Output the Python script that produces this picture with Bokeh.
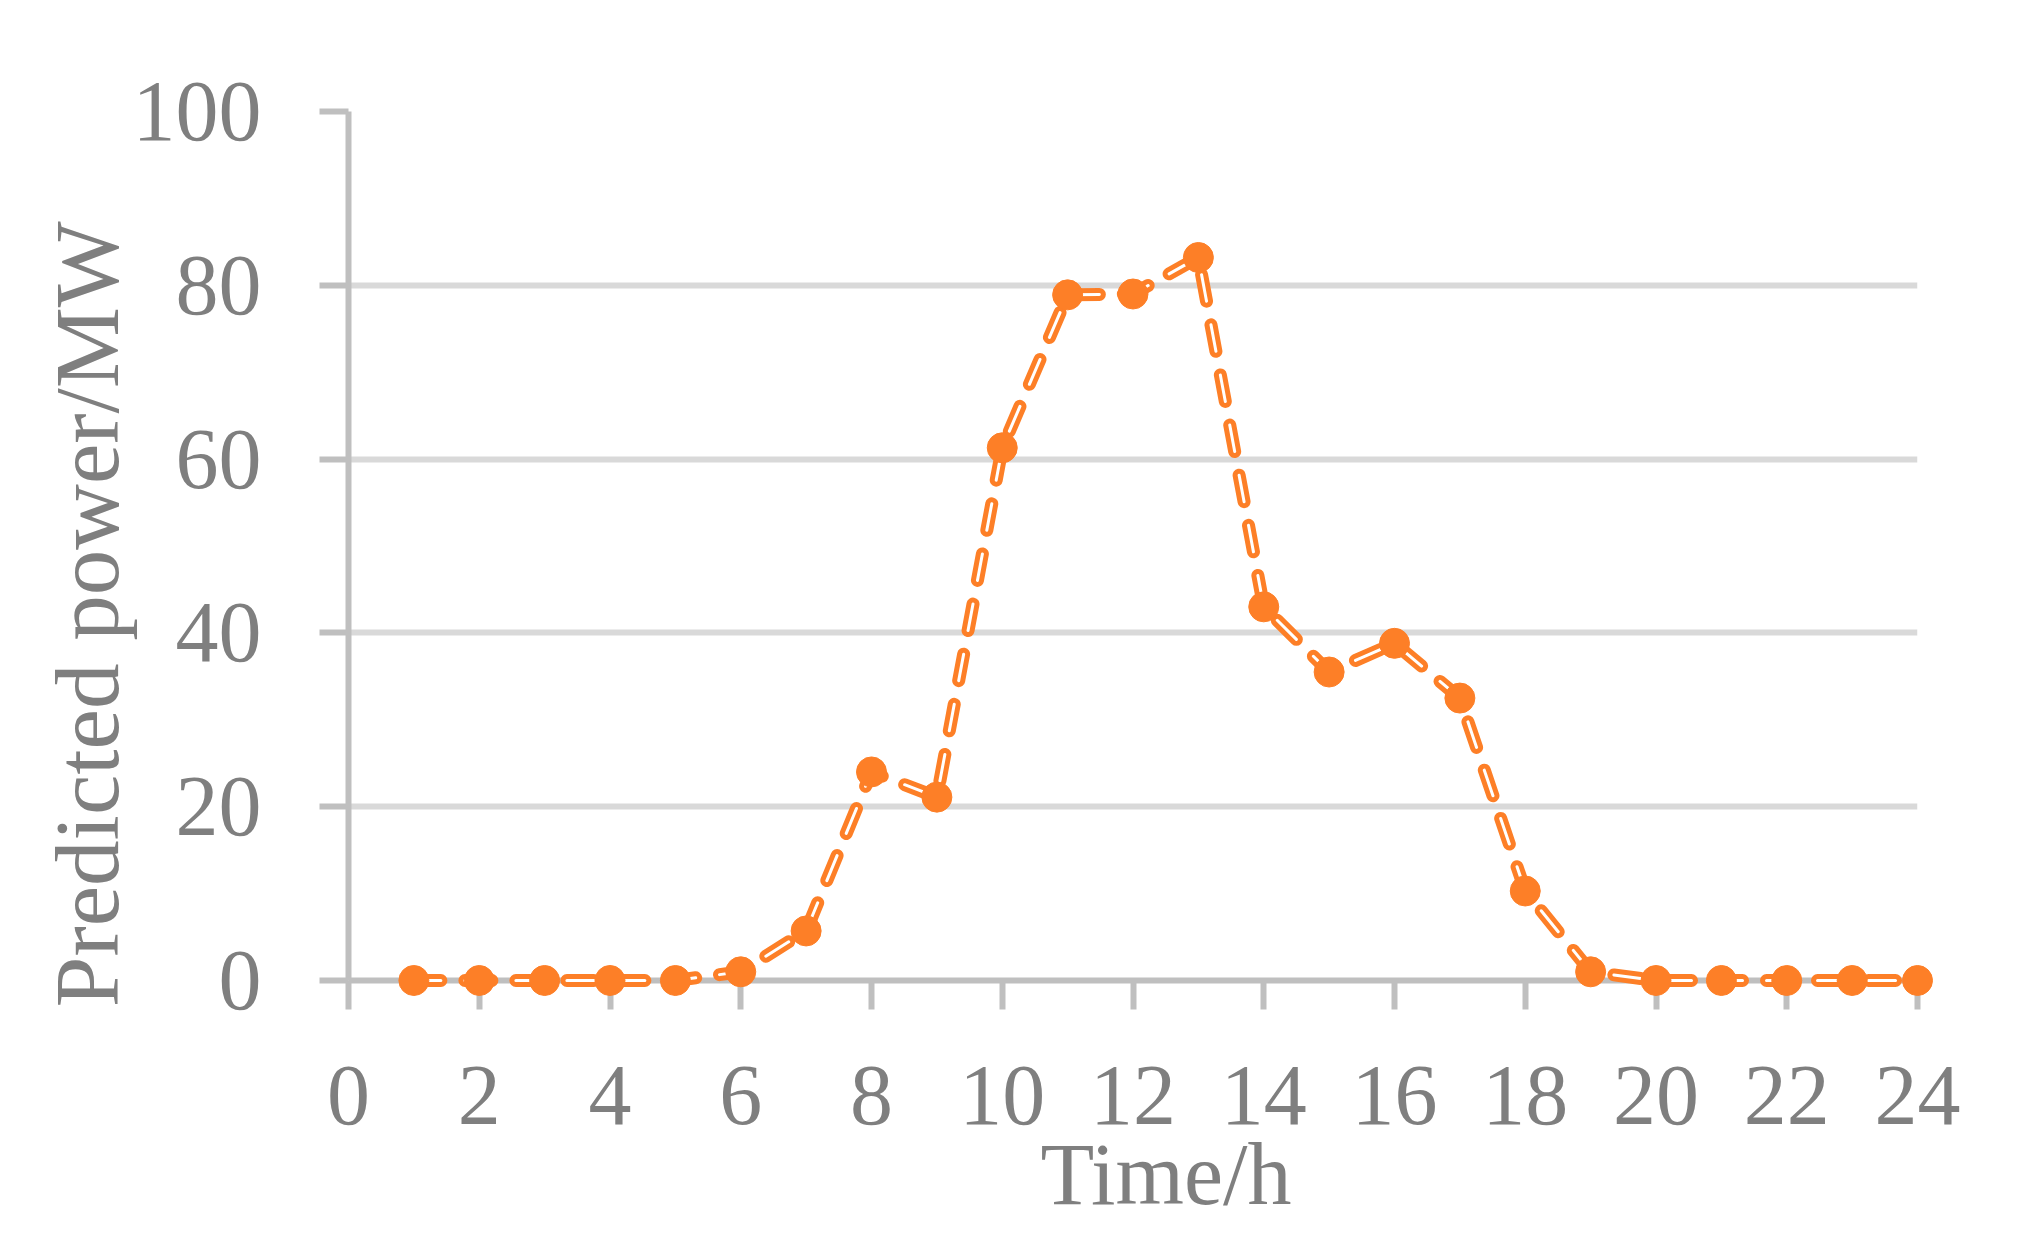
from bokeh.plotting import figure
from bokeh.models import Range1d, FixedTicker, ColumnDataSource
from bokeh.embed import file_html
from bokeh.resources import INLINE

hours = [1, 2, 3, 4, 5, 6, 7, 8, 9, 10, 11, 12, 13, 14, 15, 16, 17, 18, 19, 20, 21, 22, 23, 24]
power = [0, 0, 0, 0, 0, 1.0, 5.7, 24.0, 21.1, 61.3, 78.9, 79.0, 83.2, 43.0, 35.5, 38.8, 32.5, 10.3, 1.0, 0, 0, 0, 0, 0]
x_ticks = [0, 2, 4, 6, 8, 10, 12, 14, 16, 18, 20, 22, 24]
y_ticks = [0, 20, 40, 60, 80, 100]
x_title = "Time/h"
y_title = "Predicted power/MW"

ORANGE = "#fd7f27"
TEXT = "#7f7f7f"
AXIS = "#bfbfbf"
GRID = "#d9d9d9"
FONT = "Liberation Serif"
NBSP = "\u00a0"

src = ColumnDataSource(data=dict(x=hours, y=power))

p = figure(width=2027, height=1234, output_backend="svg", toolbar_location=None,
           x_range=Range1d(0, 24), y_range=Range1d(0, 100),
           min_border_left=348, min_border_right=110, min_border_top=111, min_border_bottom=254)
p.outline_line_color = None
p.background_fill_color = "white"
p.border_fill_color = "white"

p.xgrid.visible = False
p.ygrid.ticker = FixedTicker(ticks=y_ticks)
p.ygrid.grid_line_color = GRID
p.ygrid.grid_line_width = 6

for ax in (p.xaxis[0], p.yaxis[0]):
    ax.axis_line_color = AXIS
    ax.axis_line_width = 6
    ax.major_tick_line_color = AXIS
    ax.major_tick_line_width = 6
    ax.major_tick_in = 0
    ax.major_tick_out = 29
    ax.minor_tick_line_color = None
    ax.major_label_text_font = FONT
    ax.major_label_text_font_size = "86px"
    ax.major_label_text_color = TEXT
    ax.axis_label_text_font = FONT
    ax.axis_label_text_color = TEXT
    ax.axis_label_text_font_style = "normal"

p.xaxis.ticker = FixedTicker(ticks=x_ticks)
p.yaxis.ticker = FixedTicker(ticks=y_ticks)
p.xaxis.major_label_standoff = 57
p.yaxis.major_label_standoff = 58

# titles sit off-centre in the reference: pad with no-break spaces
p.xaxis.axis_label = NBSP * 3 + x_title
p.xaxis.axis_label_text_font_size = "88px"
p.xaxis.axis_label_standoff = -1
p.yaxis.axis_label = y_title + NBSP * 6
p.yaxis.axis_label_text_font_size = "91px"
p.yaxis.axis_label_standoff = -8

p.line("x", "y", source=src, line_color=ORANGE, line_width=13,
       line_dash="27 24", line_cap="round", line_join="round", level="overlay")
p.line("x", "y", source=src, line_color="white", line_width=3,
       line_dash="27 24", line_cap="round", line_join="round", level="overlay")
p.scatter("x", "y", source=src, size=30, fill_color=ORANGE, line_color=ORANGE,
          level="overlay")

open("out.html", "w").write(file_html(p, INLINE))
